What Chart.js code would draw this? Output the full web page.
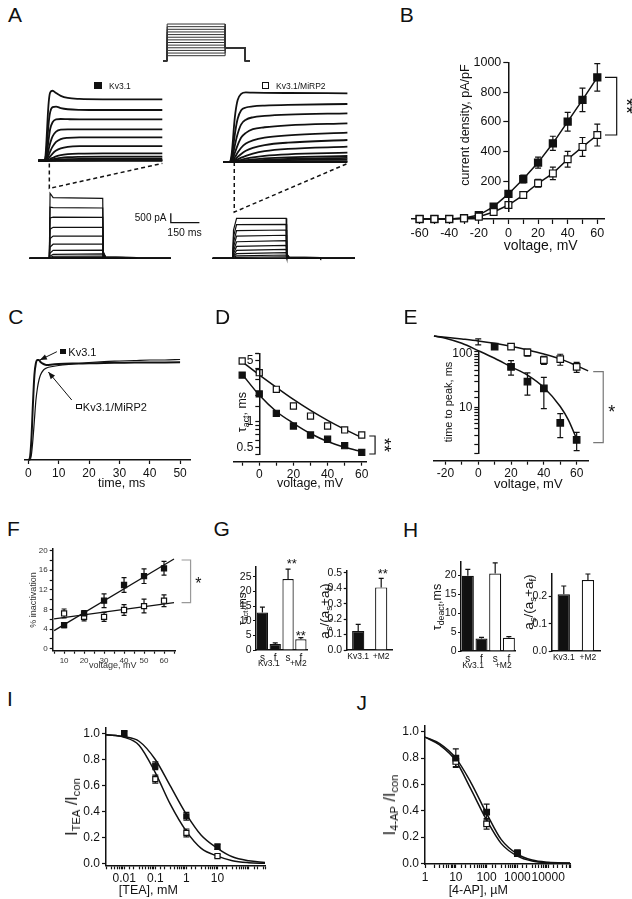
<!DOCTYPE html>
<html>
<head>
<meta charset="utf-8">
<script src="https://cdn.jsdelivr.net/npm/chart.js@4.4.1/dist/chart.umd.min.js"></script>
<style>
  body { margin: 0; background: #fff; }
  #page { position: relative; width: 632px; height: 899px; overflow: hidden; font-family: "Liberation Sans", Arial, sans-serif; color: #111; }
  #page canvas { position: absolute; }
  .t { position: absolute; white-space: nowrap; line-height: 1; }
  .t sub { font-size: .7em; vertical-align: baseline; position: relative; top: .3em; }
  .sq { position: absolute; box-sizing: border-box; border: 1.2px solid #111; }
</style>
</head>
<body>
<div id="page"></div>
<script>
// ---- A: voltage protocol and current traces ----
const protoTime = [0, 20, 20, 300, 300, 395, 395, 420];
const protoSteps = [-60, -50, -40, -30, -20, -10, 0, 10, 20, 30, 40, 50, 60];
const protoHold = -80;
const protoTail = -30;

// first 50 ms of each sweep (ms, pA)
const actTime = [-2.6, 0, 0.5, 1, 1.5, 2, 2.5, 3.5, 5, 7, 10, 15, 25, 50.4];
const kv31Act = [
  [0, 0, 300, 1300, 2500, 3300, 3640, 3724, 3600, 3450, 3340, 3290, 3270, 3270],
  [0, 0, 150, 700, 1500, 2200, 2600, 2850, 2880, 2800, 2740, 2710, 2700, 2700],
  [0, 0, 80, 350, 800, 1300, 1700, 2050, 2200, 2220, 2210, 2200, 2200, 2200],
  [0, 0, 40, 180, 400, 700, 950, 1300, 1550, 1650, 1670, 1670, 1670, 1670],
  [0, 0, 20, 90, 200, 350, 500, 750, 1000, 1150, 1220, 1245, 1245, 1245],
  [0, 0, 10, 40, 90, 160, 230, 380, 540, 660, 740, 775, 780, 780],
  [0, 0, 5, 15, 35, 60, 90, 150, 230, 300, 350, 380, 395, 395],
  [0, 0, 2, 8, 15, 25, 40, 70, 110, 150, 185, 205, 215, 215],
  [0, 0, 1, 3, 6, 10, 16, 30, 50, 70, 88, 100, 105, 105],
  [0, 0, 0, 1, 2, 4, 6, 10, 15, 22, 28, 32, 35, 35],
  [0, 0, 0, 0, 1, 2, 3, 5, 7, 9, 11, 13, 15, 15],
  [0, 0, 0, 0, 0, 0, 0, 0, 0, 0, 0, 0, 0, 0]
];
const mirp2Act = [
  [0, 0, 100, 500, 1200, 2000, 2600, 3300, 3620, 3700, 3690, 3680, 3670, 3655],
  [0, 0, 60, 300, 700, 1200, 1650, 2300, 2750, 2900, 2960, 3000, 3040, 3085],
  [0, 0, 30, 150, 380, 700, 1000, 1500, 2000, 2250, 2380, 2450, 2520, 2590],
  [0, 0, 15, 80, 200, 380, 560, 900, 1300, 1550, 1750, 1850, 1950, 2060],
  [0, 0, 8, 40, 100, 190, 290, 500, 760, 980, 1150, 1300, 1420, 1560],
  [0, 0, 4, 20, 50, 95, 150, 270, 430, 600, 750, 900, 1030, 1170],
  [0, 0, 2, 10, 25, 48, 75, 140, 230, 330, 450, 580, 700, 815],
  [0, 0, 1, 5, 12, 24, 38, 70, 120, 180, 250, 330, 410, 495],
  [0, 0, 0, 2, 6, 12, 19, 35, 60, 95, 135, 190, 250, 320],
  [0, 0, 0, 1, 3, 6, 10, 18, 32, 50, 75, 110, 160, 215],
  [0, 0, 0, 0, 1, 3, 5, 9, 16, 25, 40, 60, 100, 145],
  [0, 0, 0, 0, 0, 1, 2, 4, 7, 10, 15, 25, 35, 50],
  [0, 0, 0, 0, 0, 0, 0, 0, 0, 0, 0, 0, 0, 0]
];

// whole sweeps (ms, pA)
const fullTime = [-105, 0, 4, 20, 280, 283, 295, 458, 460, 641];
const kv31Full = [
  [0, 0, 3460, 3230, 3190, 350, 80, 40, 0, 0],
  [0, 0, 2720, 2700, 2675, 300, 70, 35, 0, 0],
  [0, 0, 2150, 2190, 2180, 250, 60, 30, 0, 0],
  [0, 0, 1550, 1650, 1650, 200, 50, 25, 0, 0],
  [0, 0, 1050, 1180, 1185, 150, 40, 20, 0, 0],
  [0, 0, 600, 750, 760, 110, 30, 15, 0, 0],
  [0, 0, 280, 420, 440, 70, 20, 10, 0, 0],
  [0, 0, 120, 210, 230, 45, 12, 6, 0, 0],
  [0, 0, 50, 110, 120, 25, 6, 3, 0, 0],
  [0, 0, 15, 45, 50, 10, 3, 0, 0, 0],
  [0, 0, 0, 0, 0, 0, 0, 0, 0, 0]
];
const mirp2Full = [
  [0, 0, 1500, 2120, 2130, 250, 70, 40, 0, 0],
  [0, 0, 1150, 1790, 1810, 220, 60, 35, 0, 0],
  [0, 0, 850, 1470, 1505, 190, 50, 30, 0, 0],
  [0, 0, 600, 1180, 1225, 160, 45, 25, 0, 0],
  [0, 0, 400, 880, 935, 130, 40, 20, 0, 0],
  [0, 0, 250, 630, 690, 100, 30, 15, 0, 0],
  [0, 0, 130, 420, 480, 70, 20, 10, 0, 0],
  [0, 0, 60, 250, 300, 45, 15, 5, 0, 0],
  [0, 0, 25, 130, 175, 30, 10, 3, 0, 0],
  [0, 0, 10, 50, 80, 15, 5, 0, 0, 0],
  [0, 0, 0, 0, 0, 0, 0, 0, 0, 0]
];

// ---- B: current density vs voltage ----
const ivVoltage = [-60, -50, -40, -30, -20, -10, 0, 10, 20, 30, 40, 50, 60];
const ivKv31 = [0, 0, 0, 6, 25, 79, 160, 255, 360, 483, 621, 760, 904];
const ivKv31Err = [0, 0, 0, 3, 8, 12, 20, 25, 35, 45, 60, 75, 88];
const ivMirp2 = [0, 0, 0, 4, 15, 45, 89, 153, 228, 291, 381, 460, 536];
const ivMirp2Err = [0, 0, 0, 2, 5, 8, 10, 15, 25, 40, 50, 60, 70];

// ---- C: normalised traces ----
const cTime = [0, 0.5, 1, 1.5, 2, 2.5, 3, 3.5, 4, 5, 6, 8, 10, 15, 20, 25, 30, 35, 40, 45, 50];
const cKv31 = [0, 0.02, 0.2, 0.55, 0.85, 0.97, 1.0, 1.0, 0.98, 0.96, 0.95, 0.955, 0.96, 0.965, 0.967, 0.97, 0.972, 0.974, 0.975, 0.976, 0.977];
const cMirp2 = [0, 0, 0.05, 0.2, 0.4, 0.6, 0.72, 0.8, 0.85, 0.9, 0.92, 0.935, 0.945, 0.96, 0.975, 0.985, 0.99, 0.995, 1.0, 1.0, 1.005];

// ---- D: activation time constant ----
const dVolt = [-10, 0, 10, 20, 30, 40, 50, 60];
const dTauKv31 = [3.53, 2.21, 1.37, 1.0, 0.8, 0.72, 0.614, 0.52];
const dTauMirp2 = [5.0, 3.74, 2.48, 1.64, 1.28, 1.0, 0.906, 0.8];
const dFitKv31 = [3.6, 2.15, 1.43, 1.07, 0.83, 0.68, 0.59, 0.53];
const dFitMirp2 = [4.9, 3.54, 2.6, 1.93, 1.47, 1.15, 0.92, 0.75];

// ---- E: time to peak ----
const eVolt = [-20, -10, 0, 10, 20, 30, 40, 50, 60];
const eTtpKv31 = [167, 184, 167, 136, 60, 33, 25, 6.2, 3.1];
const eTtpKv31Err = [0, 0, 0, 0, 17, 14, 14, 2.8, 1.1];
const eTtpMirp2 = [167, 184, 167, 167, 136, 108, 79, 82, 60];
const eTtpMirp2Err = [0, 0, 20, 0, 0, 15, 13, 18, 12];
const eFitKv31X = [-27, -20, -10, 0, 10, 20, 30, 40, 50, 55, 60];
const eFitKv31 = [210, 192, 156, 116, 85, 60, 43, 26, 12, 6.9, 3.2];
const eFitMirp2X = [-27, -20, -10, 0, 10, 20, 30, 40, 50, 60, 67];
const eFitMirp2 = [210, 200, 186, 172, 156, 138, 119, 101, 83, 63, 51];

// ---- F: % inactivation ----
const fVolt = [10, 20, 30, 40, 50, 60];
const fInactKv31 = [4.8, 7.2, 9.8, 13.0, 14.8, 16.4];
const fInactKv31Err = [0.5, 0.6, 1.4, 1.5, 1.5, 1.4];
const fInactMirp2 = [7.2, 6.5, 6.5, 7.9, 8.7, 9.8];
const fInactMirp2Err = [0.9, 0.8, 0.9, 1.1, 1.4, 1.2];
const fFitX = [5, 65];
const fFitKv31 = [3.7, 18.3];
const fFitMirp2 = [6.1, 9.4];

// ---- G / H: bars ----
const tauLabels = ['s', 'f', 's', 'f'];
const groupLabels = ['Kv3.1', '+M2'];
const gTauAct = [12.8, 2.05, 24.2, 3.65];
const gTauActErr = [1.8, 0.4, 3.4, 0.6];
const gAmpRatio = [0.123, 0.405];
const gAmpRatioErr = [0.043, 0.058];
const hTauDeact = [19.8, 3.3, 20.4, 3.5];
const hTauDeactErr = [1.7, 0.3, 2.8, 0.3];
const hAmpRatio = [0.208, 0.26];
const hAmpRatioErr = [0.03, 0.022];

// ---- I: TEA block ----
const iTea = [0.01, 0.1, 1, 10];
const iKv31 = [1.0, 0.752, 0.365, 0.132];
const iKv31Err = [0.02, 0.03, 0.03, 0.02];
const iMirp2 = [1.0, 0.65, 0.238, 0.061];
const iMirp2Err = [0.02, 0.03, 0.03, 0.01];
const iFitX = [0.0026, 0.01, 0.03, 0.1, 0.3, 1, 3, 10, 30, 100, 337];
const iFitKv31 = [0.99, 0.975, 0.94, 0.8, 0.6, 0.38, 0.22, 0.12, 0.055, 0.025, 0.012];
const iFitMirp2 = [0.99, 0.97, 0.91, 0.7, 0.46, 0.25, 0.12, 0.06, 0.025, 0.01, 0.005];

// ---- J: 4-AP block ----
const jAp = [10, 100, 1000];
const jKv31 = [0.8, 0.39, 0.08];
const jKv31Err = [0.07, 0.06, 0.02];
const jMirp2 = [0.775, 0.3, 0.075];
const jMirp2Err = [0.04, 0.04, 0.015];
const jFitX = [1, 3, 10, 30, 100, 300, 1000, 3000, 10000, 51000];
const jFitKv31 = [0.96, 0.91, 0.8, 0.62, 0.38, 0.18, 0.07, 0.025, 0.008, 0.002];
const jFitMirp2 = [0.96, 0.9, 0.78, 0.57, 0.33, 0.15, 0.055, 0.018, 0.005, 0.001];

const INK = '#111';
const page = document.getElementById('page');
Chart.defaults.font.family = '"Liberation Sans", Arial, sans-serif';
Chart.defaults.color = INK;

// error bars from dataset.errors, drawn under the markers
const errorBars = {
  id: 'errorBars',
  beforeDatasetsDraw(chart) {
    const ctx = chart.ctx;
    chart.data.datasets.forEach((ds, di) => {
      if (!ds.errors) return;
      const meta = chart.getDatasetMeta(di);
      const ys = chart.scales[meta.yAxisID];
      ctx.save();
      ctx.strokeStyle = INK;
      ctx.lineWidth = ds.errWidth || 1.2;
      meta.data.forEach((el, i) => {
        const e = ds.errors[i];
        if (!e) return;
        const d = ds.data[i];
        const v = typeof d === 'object' ? d.y : d;
        const cap = ds.errCap || 3;
        const hi = ys.getPixelForValue(v + e);
        const lo = ds.errUpOnly ? el.y : ys.getPixelForValue(v - e);
        ctx.beginPath();
        ctx.moveTo(el.x, hi); ctx.lineTo(el.x, lo);
        ctx.moveTo(el.x - cap, hi); ctx.lineTo(el.x + cap, hi);
        if (!ds.errUpOnly) { ctx.moveTo(el.x - cap, lo); ctx.lineTo(el.x + cap, lo); }
        ctx.stroke();
      });
      ctx.restore();
    });
  }
};

// brackets, arrows, zoom lines and scale bars, in data units
const decor = {
  id: 'decor',
  afterDraw(chart) {
    const items = chart.data.decor || [];
    const xs = chart.scales.x, ys = chart.scales.y, ctx = chart.ctx;
    items.forEach(it => {
      const p = it.pts.map(([a, b]) => [xs.getPixelForValue(a), ys.getPixelForValue(b)]);
      ctx.save();
      ctx.strokeStyle = it.color || INK;
      ctx.fillStyle = it.color || INK;
      ctx.lineWidth = it.width || 1.2;
      ctx.setLineDash(it.dash || []);
      ctx.beginPath();
      p.forEach(([x, y], i) => (i ? ctx.lineTo(x, y) : ctx.moveTo(x, y)));
      ctx.stroke();
      if (it.arrow) {
        const [x1, y1] = p[p.length - 2], [x2, y2] = p[p.length - 1];
        const a = Math.atan2(y2 - y1, x2 - x1);
        ctx.setLineDash([]);
        ctx.beginPath();
        ctx.moveTo(x2, y2);
        ctx.lineTo(x2 - 7 * Math.cos(a) + 2.8 * Math.sin(a), y2 - 7 * Math.sin(a) - 2.8 * Math.cos(a));
        ctx.lineTo(x2 - 7 * Math.cos(a) - 2.8 * Math.sin(a), y2 - 7 * Math.sin(a) + 2.8 * Math.cos(a));
        ctx.closePath();
        ctx.fill();
      }
      ctx.restore();
    });
  }
};
Chart.register(errorBars, decor);

// place a canvas so that its plot area lands on `area` = [left, top, right, bottom]
function makeChart(area, m, cfg) {
  const x0 = Math.floor(area[0] - m[0]), y0 = Math.floor(area[1] - m[1]);
  const w = Math.ceil(area[2] + m[2]) - x0, h = Math.ceil(area[3] + m[3]) - y0;
  const c = document.createElement('canvas');
  c.width = w; c.height = h;
  c.style.left = x0 + 'px'; c.style.top = y0 + 'px';
  c.style.width = w + 'px'; c.style.height = h + 'px';
  page.appendChild(c);
  const pad = {left: area[0] - x0, top: area[1] - y0, right: x0 + w - area[2], bottom: y0 + h - area[3]};
  const sx = cfg.options.scales.x, sy = cfg.options.scales.y;
  const xOn = sx.display !== false, yOn = sy.display !== false;
  if (xOn) sx.afterFit = s => { s.height = pad.bottom; };
  if (yOn) sy.afterFit = s => { s.width = pad.left; };
  cfg.options.layout = {autoPadding: false, padding: {left: yOn ? 0 : pad.left, top: pad.top, right: pad.right, bottom: xOn ? 0 : pad.bottom}};
  cfg.options.responsive = false;
  cfg.options.animation = false;
  cfg.options.events = [];
  cfg.options.devicePixelRatio = 1;
  cfg.options.plugins = {legend: {display: false}, tooltip: {enabled: false}};
  return new Chart(c, cfg);
}

function axis(range, ticks, type, len) {
  return {
    type: type || 'linear', min: range[0], max: range[1],
    grid: {display: true, drawOnChartArea: false, drawTicks: true, tickLength: len || 4, tickColor: INK, tickWidth: 1.2},
    border: {display: true, color: INK, width: 1.5},
    ticks: Object.assign({color: INK, font: {size: 12}, padding: 2, autoSkip: false, maxRotation: 0, includeBounds: false}, ticks)
  };
}
function catAxis(size) {
  return {
    grid: {display: false, drawTicks: false},
    border: {display: true, color: INK, width: 1.5},
    ticks: {color: INK, font: {size: size}, padding: 2, autoSkip: false, maxRotation: 0}
  };
}
function hidden(range, type) { return {display: false, type: type || 'linear', min: range[0], max: range[1]}; }
const every = n => v => (Math.abs(v % n) < 1e-9 ? String(v) : '');
const only = list => v => {
  const hit = list.find(k => Math.abs(v - k) < Math.abs(k) * 1e-6);
  return hit === undefined ? '' : String(hit);
};
const fixed1 = v => v.toFixed(1);

function series(xs, ys, o) {
  return Object.assign({
    data: xs.map((x, i) => ({x, y: ys[i]})), showLine: true, pointRadius: 0,
    borderColor: INK, backgroundColor: INK, borderWidth: 1.5, clip: false
  }, o);
}
function markers(xs, ys, filled, r, errs, o) {
  return series(xs, ys, Object.assign({
    showLine: false, pointStyle: 'rect', pointRadius: r, pointBorderWidth: 1.2,
    pointBorderColor: INK, pointBackgroundColor: filled ? INK : '#fff', errors: errs
  }, o));
}

function label(html, x, y, size, opts) {
  opts = opts || {};
  const d = document.createElement('div');
  d.className = 't';
  d.innerHTML = html;
  d.style.left = x + 'px'; d.style.top = y + 'px';
  d.style.fontSize = size + 'px';
  const shift = opts.anchor === 'left' ? 'translate(0,-50%)' : opts.anchor === 'right' ? 'translate(-100%,-50%)' : 'translate(-50%,-50%)';
  d.style.transform = shift + (opts.rot ? ` rotate(${opts.rot}deg)` : '');
  if (opts.color) d.style.color = opts.color;
  page.appendChild(d);
}
function square(x, y, s, filled) {
  const d = document.createElement('div');
  d.className = 'sq';
  Object.assign(d.style, {left: x + 'px', top: y + 'px', width: s + 'px', height: s + 'px', background: filled ? INK : '#fff'});
  page.appendChild(d);
}

// ===== A =====
makeChart([163, 23.5, 250, 61.5], [1, 1, 1, 1], {
  type: 'scatter',
  data: {datasets: protoSteps.map(v => series(protoTime, [protoHold, protoHold, v, v, protoTail, protoTail, protoHold, protoHold], {borderWidth: 1, borderColor: '#333'}))},
  options: {scales: {x: hidden([0, 420]), y: hidden([-82, 62])}}
});
makeChart([38.3, 88, 162.3, 163], [2, 2, 2, 2], {
  type: 'scatter',
  data: {datasets: kv31Act.map(row => series(actTime, row, {borderWidth: 1.8, cubicInterpolationMode: 'monotone'}))},
  options: {scales: {x: hidden([-2.6, 50.4]), y: hidden([-120, 3870])}}
});
makeChart([223.4, 89, 347.4, 164], [2, 2, 2, 2], {
  type: 'scatter',
  data: {datasets: mirp2Act.map(row => series(actTime, row, {borderWidth: 1.8, cubicInterpolationMode: 'monotone'}))},
  options: {scales: {x: hidden([-2.6, 50.4]), y: hidden([-106, 3884])}}
});
makeChart([29.3, 160, 170.8, 262], [2, 4, 34, 2], {
  type: 'scatter',
  data: {
    datasets: kv31Full.map(row => series(fullTime, row, {borderWidth: 1.2, clip: 0})),
    decor: [
      {pts: [[0, 5050], [0, 3720], [593, 5050]], dash: [4, 3], width: 1.5},
      {pts: [[637, 2394], [637, 1894], [787, 1894]], width: 1.3}
    ]
  },
  options: {scales: {x: hidden([-105, 637]), y: hidden([-197, 5230])}}
});
makeChart([213.3, 160, 355, 262], [2, 4, 4, 2], {
  type: 'scatter',
  data: {
    datasets: mirp2Full.map(row => series(fullTime, row, {borderWidth: 1.2})),
    decor: [{pts: [[8, 5120], [8, 2460], [603, 5050]], dash: [4, 3], width: 1.5}]
  },
  options: {scales: {x: hidden([-102, 641]), y: hidden([-197, 5230])}}
});

// ===== B =====
makeChart([411.9, 62.3, 604.7, 219], [8, 10, 16, 30], {
  type: 'scatter',
  data: {
    datasets: [
      series(ivVoltage, ivMirp2, {pointStyle: 'rect', pointRadius: 4.8, pointBorderWidth: 1.2, pointBorderColor: INK, pointBackgroundColor: '#fff', errors: ivMirp2Err}),
      series(ivVoltage, ivKv31, {pointStyle: 'rect', pointRadius: 4.8, pointBorderColor: INK, pointBackgroundColor: INK, errors: ivKv31Err})
    ],
    decor: [{pts: [[65.2, 904], [73.1, 904], [73.1, 536], [65.2, 536]], width: 1.2}]
  },
  options: {scales: {x: axis([-65.2, 65], {stepSize: 10, callback: every(20), font: {size: 12.5}}, 'linear', 5), y: hidden([0, 1000])}}
});
const bY = axis([0, 1000], {stepSize: 200, callback: v => (v === 0 ? '' : v), font: {size: 12.5}}, 'linear', 5);
bY.grid.tickColor = c => (c.tick && c.tick.value === 0 ? 'rgba(0,0,0,0)' : INK);
makeChart([508.3, 62.3, 604.7, 219], [44, 10, 2, 2], {
  type: 'scatter', data: {datasets: []},
  options: {scales: {x: hidden([0, 1]), y: bY}}
});

// ===== C =====
makeChart([25, 340, 190.7, 460], [6, 8, 10, 28], {
  type: 'scatter',
  data: {
    datasets: [
      series(cTime, cMirp2, {borderWidth: 1.2, cubicInterpolationMode: 'monotone'}),
      series(cTime, cKv31, {borderWidth: 2, cubicInterpolationMode: 'monotone'})
    ],
    decor: [
      {pts: [[9.4, 1.083], [3.8, 1.0]], width: 1, arrow: true},
      {pts: [[14.3, 0.6], [6.6, 0.88]], width: 1, arrow: true}
    ]
  },
  options: {scales: {x: axis([-1.1, 53.5], {stepSize: 10}), y: hidden([0, 1.2])}}
});

// ===== D =====
makeChart([233.3, 353.3, 366.7, 461.7], [5, 10, 26, 26], {
  type: 'scatter',
  data: {
    datasets: [
      markers(dVolt, dTauKv31, true, 4.3),
      markers(dVolt, dTauMirp2, false, 4.3),
      series(dVolt, dFitKv31, {cubicInterpolationMode: 'monotone'}),
      series(dVolt, dFitMirp2, {cubicInterpolationMode: 'monotone'})
    ],
    decor: [{pts: [[64.4, 0.78], [67.8, 0.78], [67.8, 0.5], [64.4, 0.5]], width: 1.2}]
  },
  options: {scales: {x: axis([-15.2, 62.9], {stepSize: 10, callback: every(20)}), y: hidden([0.413, 6.05], 'logarithmic')}}
});
makeChart([259.3, 353.3, 366.7, 461.7], [30, 10, 2, 2], {
  type: 'scatter', data: {datasets: []},
  options: {scales: {x: hidden([0, 1]), y: axis([0.413, 6.05], {callback: only([0.5, 1, 5])}, 'logarithmic')}}
});

// ===== E =====
makeChart([433.3, 351.7, 588.3, 460.7], [5, 24, 30, 26], {
  type: 'scatter',
  data: {
    datasets: [
      markers(eVolt, eTtpKv31, true, 4.6, eTtpKv31Err),
      markers(eVolt, eTtpMirp2, false, 4.6, eTtpMirp2Err),
      series(eFitKv31X, eFitKv31, {cubicInterpolationMode: 'monotone'}),
      series(eFitMirp2X, eFitMirp2, {cubicInterpolationMode: 'monotone'})
    ],
    decor: [{pts: [[70.1, 49.3], [76.2, 49.3], [76.2, 2.76], [70.1, 2.76]], width: 1.2, color: '#777'}]
  },
  options: {scales: {x: axis([-27.4, 67.1], {stepSize: 10, callback: every(20)}), y: hidden([1.33, 111], 'logarithmic')}}
});
makeChart([478.3, 351.7, 588.3, 460.7], [30, 10, 2, 2], {
  type: 'scatter', data: {datasets: []},
  options: {scales: {x: hidden([0, 1]), y: axis([1.33, 111], {callback: only([10, 100])}, 'logarithmic')}}
});

// ===== F =====
makeChart([52.7, 549.2, 175, 650.7], [30, 8, 30, 22], {
  type: 'scatter',
  data: {
    datasets: [
      markers(fVolt, fInactKv31, true, 3.6, fInactKv31Err, {errCap: 2.5}),
      markers(fVolt, fInactMirp2, false, 3.6, fInactMirp2Err, {errCap: 2.5}),
      series(fFitX, fFitKv31, {borderWidth: 1.3}),
      series(fFitX, fFitMirp2, {borderWidth: 1.3})
    ],
    decor: [{pts: [[68.8, 18.1], [73.3, 18.1], [73.3, 9.4], [68.8, 9.4]], width: 1.2, color: '#999'}]
  },
  options: {scales: {
    x: axis([4.3, 65.5], {stepSize: 5, callback: every(10), font: {size: 8}, color: '#333'}, 'linear', 3),
    y: axis([-0.4, 20.3], {stepSize: 2, callback: every(4), font: {size: 8}, color: '#333'}, 'linear', 3)
  }}
});

// ===== G / H bars =====
function bars(area, labels, values, errs, fills, pct, yOpts, xSize) {
  return makeChart(area, [24, 8, 6, 22], {
    type: 'bar',
    data: {labels: labels, datasets: [{
      data: values, errors: errs, errUpOnly: true, errCap: 2.5,
      backgroundColor: fills, borderColor: INK, borderWidth: 1.2,
      barPercentage: pct, categoryPercentage: 1
    }]},
    options: {scales: {x: catAxis(xSize), y: yOpts}}
  });
}
const barTicks = extra => Object.assign({font: {size: 10.5}, padding: 1.5}, extra);
bars([256, 566.7, 307.3, 650], tauLabels, gTauAct, gTauActErr, [INK, INK, '#fff', '#fff'], 0.88,
  axis([0, 28.4], barTicks({stepSize: 5}), 'linear', 3), 10);
bars([346.7, 570.7, 392.7, 650], groupLabels, gAmpRatio, gAmpRatioErr, [INK, '#fff'], 0.53,
  axis([0, 0.513], barTicks({stepSize: 0.1, callback: fixed1}), 'linear', 3), 8.5);
bars([461, 561.7, 515.7, 651], tauLabels, hTauDeact, hTauDeactErr, [INK, INK, '#fff', '#fff'], 0.88,
  axis([0, 23.5], barTicks({stepSize: 5}), 'linear', 3), 10);
bars([551.7, 574, 600, 651], groupLabels, hAmpRatio, hAmpRatioErr, [INK, '#fff'], 0.51,
  axis([0, 0.282], barTicks({stepSize: 0.1, callback: fixed1}), 'linear', 3), 8.5);

// ===== I =====
makeChart([106, 727.3, 265, 865.3], [36, 8, 8, 24], {
  type: 'scatter',
  data: {datasets: [
    markers(iTea, iKv31, true, 3.6, iKv31Err),
    markers(iTea, iMirp2, false, 3.6, iMirp2Err),
    series(iFitX, iFitKv31, {cubicInterpolationMode: 'monotone'}),
    series(iFitX, iFitMirp2, {cubicInterpolationMode: 'monotone'})
  ]},
  options: {scales: {
    x: axis([0.0026, 337], {callback: only([0.01, 0.1, 1, 10])}, 'logarithmic'),
    y: axis([-0.01, 1.04], {stepSize: 0.2, callback: fixed1})
  }}
});

// ===== J =====
makeChart([425, 725, 570, 864], [36, 8, 20, 24], {
  type: 'scatter',
  data: {datasets: [
    markers(jAp, jKv31, true, 4, jKv31Err),
    markers(jAp, jMirp2, false, 4, jMirp2Err),
    series(jFitX, jFitKv31, {cubicInterpolationMode: 'monotone'}),
    series(jFitX, jFitMirp2, {cubicInterpolationMode: 'monotone'})
  ]},
  options: {scales: {
    x: axis([1, 51000], {callback: only([1, 10, 100, 1000, 10000])}, 'logarithmic'),
    y: axis([-0.005, 1.043], {stepSize: 0.2, callback: fixed1})
  }}
});

// ===== text =====
[['A', 15, 14.2], ['B', 406.7, 14.2], ['C', 15.8, 315.8], ['D', 222.5, 315.8], ['E', 410.5, 315.8],
 ['F', 13.3, 527.5], ['G', 221.7, 527.5], ['H', 410.5, 529], ['I', 10, 698.3], ['J', 361.7, 701.7]]
  .forEach(([s, x, y]) => label(s, x, y, 21));

square(94, 81.7, 7.6, true);
label('Kv3.1', 109, 85.5, 8.5, {anchor: 'left'});
square(261.7, 81.7, 7.6, false);
label('Kv3.1/MiRP2', 276, 85.5, 8.5, {anchor: 'left'});
label('500 pA', 166.5, 218.3, 10, {anchor: 'right'});
label('150 ms', 167.3, 231.7, 10.5, {anchor: 'left'});

label('current density, pA/pF', 465, 125, 12.5, {rot: -90});
label('voltage, mV', 540.7, 245, 14);
label('**', 627, 106, 20, {rot: 90});

square(60, 348.7, 5.6, true);
label('Kv3.1', 68.3, 351.7, 11, {anchor: 'left'});
square(76, 403.8, 5.6, false);
label('Kv3.1/MiRP2', 82.8, 406.5, 11, {anchor: 'left'});
label('time, ms', 121.7, 482.7, 12.5);

label('τ<sub>act</sub>, ms', 241.5, 412, 12.5, {rot: -90});
label('voltage, mV', 310, 482.7, 12.5);
label('**', 384, 445, 18, {rot: 90});

label('time to peak, ms', 448.3, 401.7, 11, {rot: -90});
label('voltage, mV', 528.3, 482.7, 13);
label('*', 611.7, 412, 18);

label('% inactivation', 33.3, 600, 9, {rot: -90, color: '#333'});
label('voltage, mV', 112.7, 665, 9, {color: '#333'});
label('*', 198.3, 584, 16);

label('τ<sub>act</sub>,ms', 241.5, 609, 11, {rot: -90});
label('Kv3.1', 268.8, 663.3, 8.5);
label('+M2', 298.3, 663.3, 8.5);
label('**', 291.7, 563, 13);
label('**', 300.7, 634.5, 13);
label('a<sub>s</sub>/(a<sub>s</sub>+a<sub>f</sub>)', 324.5, 611, 13.5, {rot: -90});
label('**', 382.7, 573, 13);

label('τ<sub>deact</sub>,ms', 436.5, 606.7, 12.5, {rot: -90});
label('Kv3.1', 473, 665, 8.5);
label('+M2', 503.3, 665, 8.5);
label('a<sub>s</sub>/(a<sub>s</sub>+a<sub>f</sub>)', 529, 602, 13.5, {rot: -90});

label('I<sub>TEA</sub> /I<sub>con</sub>', 71.7, 806.7, 16, {rot: -90});
label('[TEA], mM', 148.3, 890, 12.5);
label('I<sub>4-AP</sub> /I<sub>con</sub>', 390, 805, 16, {rot: -90});
label('[4-AP], µM', 478.3, 890, 12.5);
</script>
</body>
</html>
